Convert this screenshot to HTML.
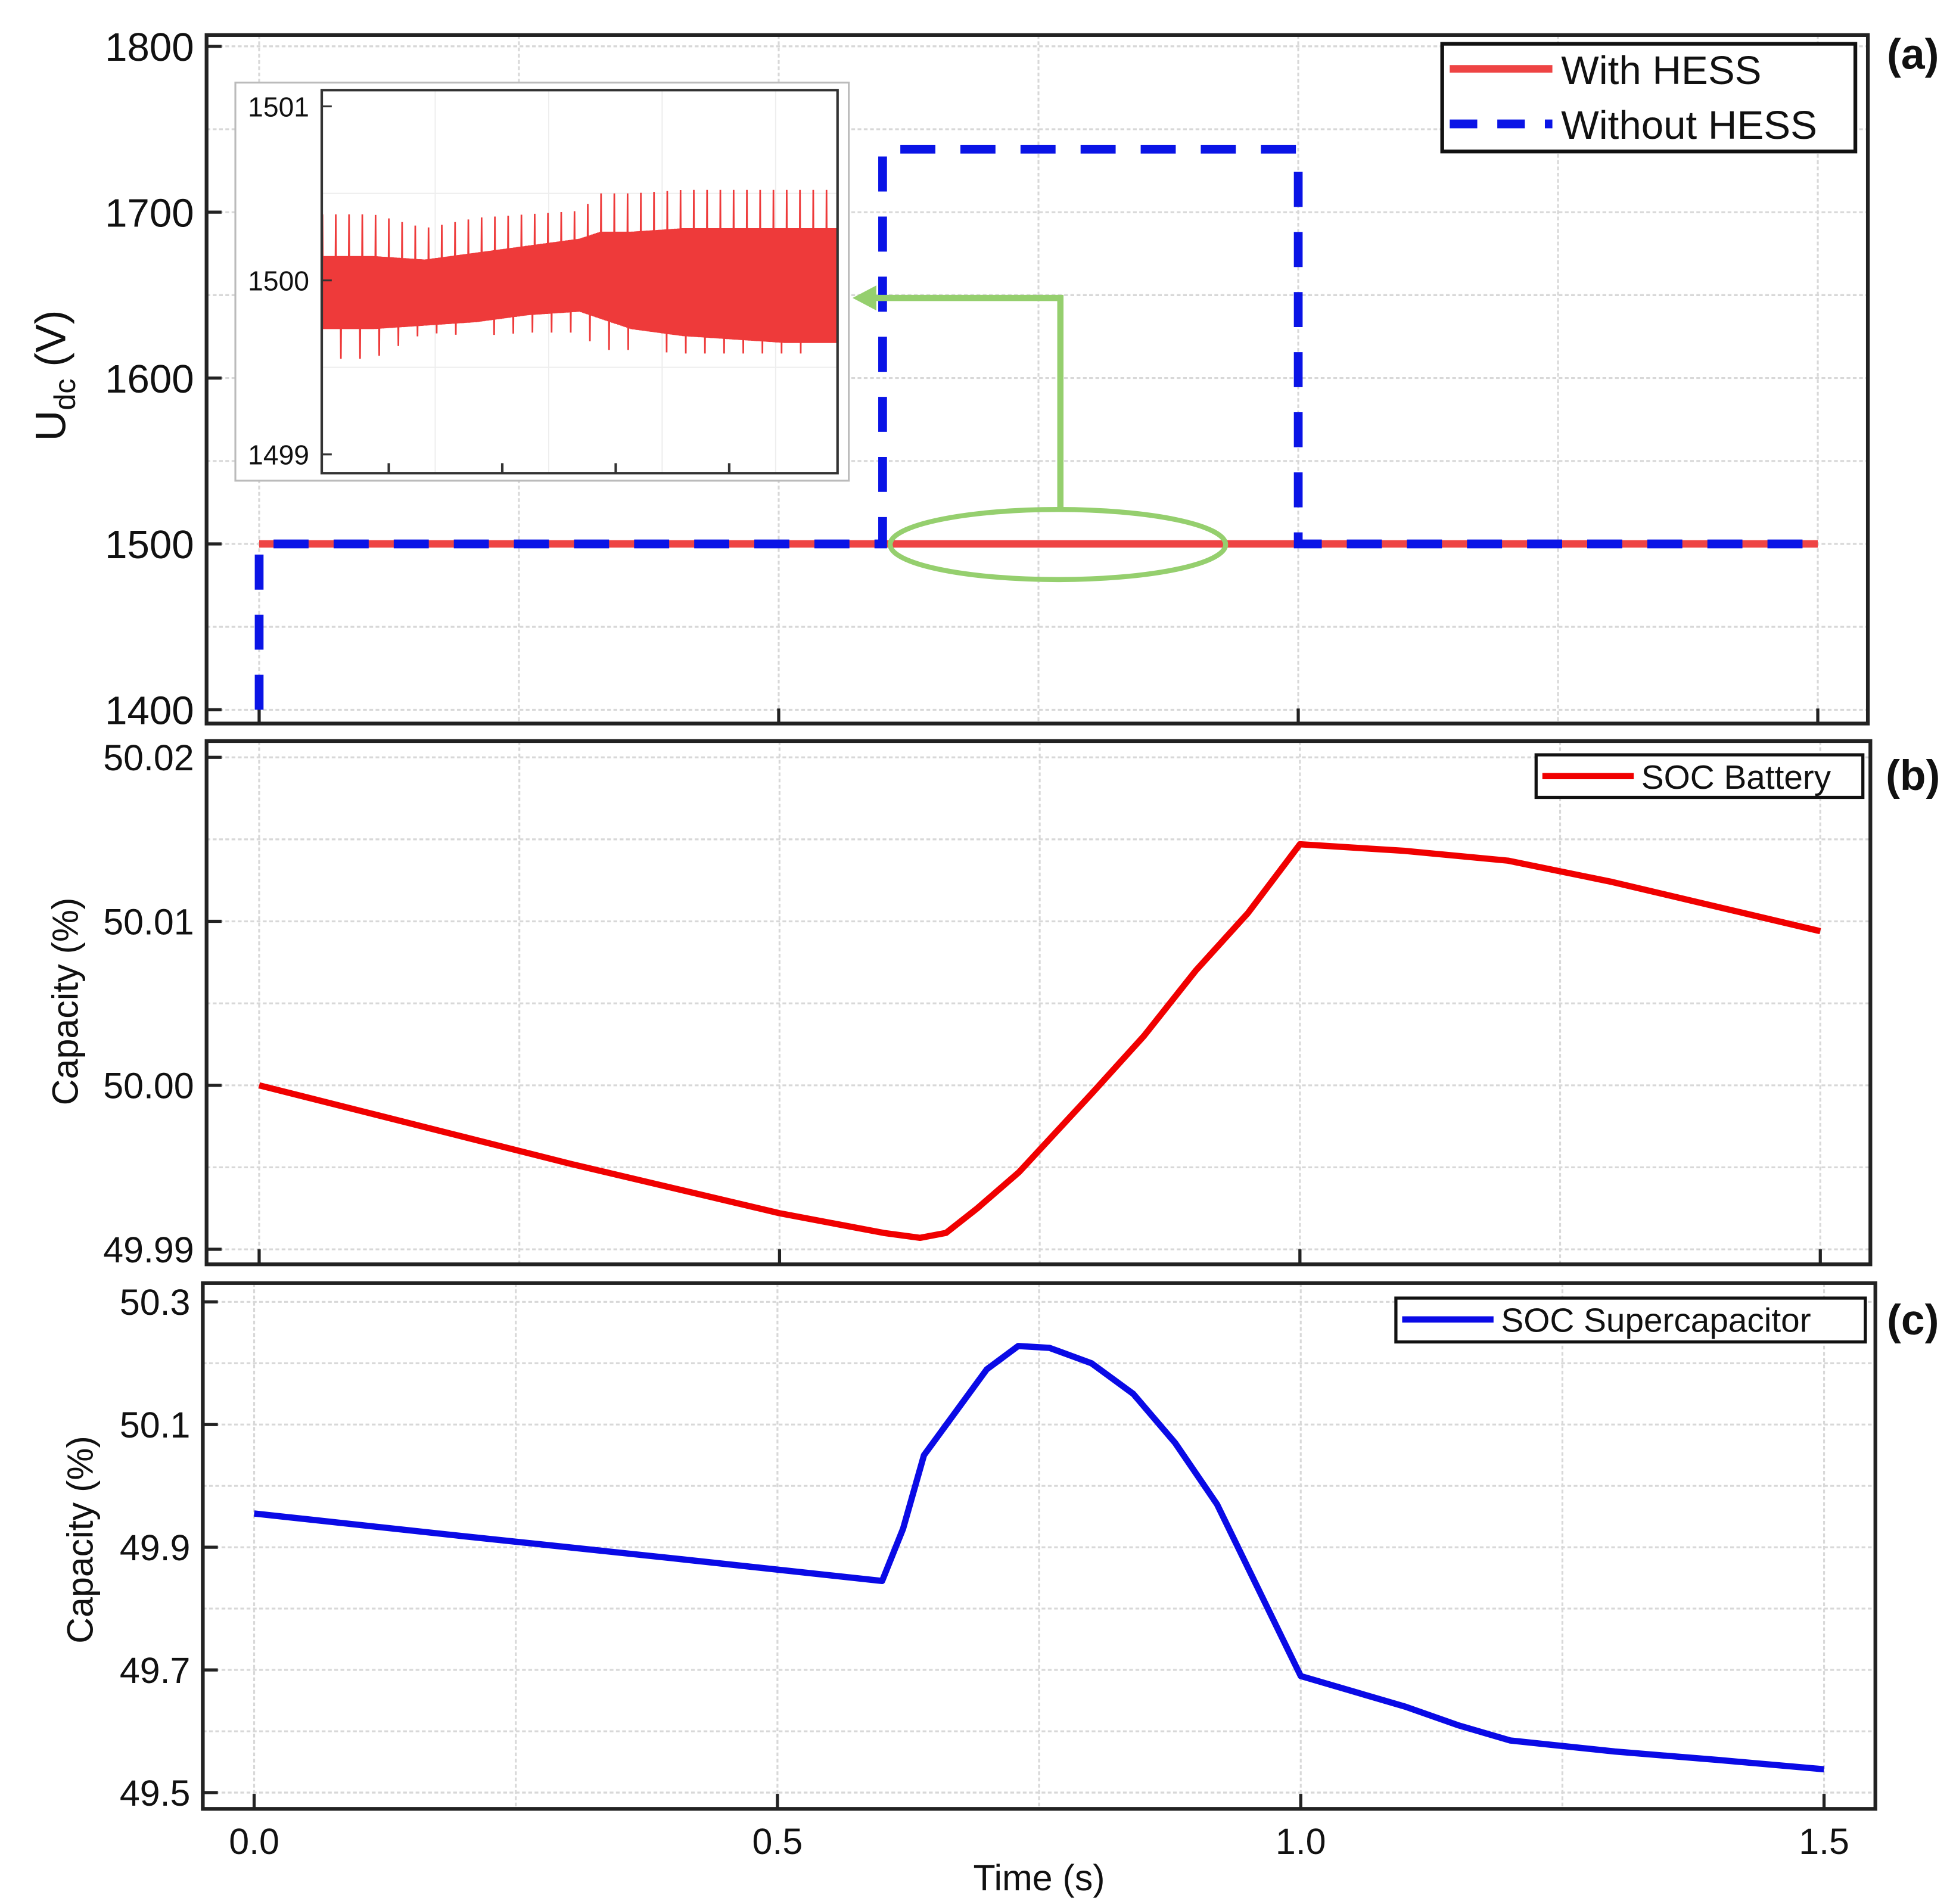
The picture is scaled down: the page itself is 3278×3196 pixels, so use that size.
<!DOCTYPE html>
<html><head><meta charset="utf-8"><style>
html,body{margin:0;padding:0;background:#fff}
svg{display:block}
text{font-family:"Liberation Sans",sans-serif}
</style></head><body>
<svg id="chart" width="3278" height="3196" viewBox="0 0 1560 1521" preserveAspectRatio="none" xmlns="http://www.w3.org/2000/svg"></svg>
<script>
// ---- data ----
const xTicks=[0,0.5,1.0,1.5];
const xTickLabels=["0.0","0.5","1.0","1.5"];
// panel a
const aTicks=[1400,1500,1600,1700,1800];
const withT=[0,1.5];
const withV=[1500,1500];
const withoutT=[0,0,0.6,0.6,1.0,1.0,1.5];
const withoutV=[1400,1500,1500,1738,1738,1500,1500];
// panel a inset envelopes
const insetX=[0,0.1,0.2,0.3,0.4,0.5,0.54,0.6,0.7,0.8,0.9,1.0];
const insetHi=[1500.38,1500.38,1500.3,1500.36,1500.38,1500.4,1500.5,1500.5,1500.52,1500.52,1500.52,1500.52];
const insetLo=[1499.55,1499.55,1499.7,1499.68,1499.7,1499.7,1499.6,1499.6,1499.58,1499.58,1499.58,1499.58];
const insetMidHi=[1500.14,1500.14,1500.12,1500.16,1500.2,1500.24,1500.28,1500.28,1500.3,1500.3,1500.3,1500.3];
const insetMidLo=[1499.72,1499.72,1499.74,1499.76,1499.8,1499.82,1499.78,1499.72,1499.68,1499.66,1499.64,1499.64];
// panel b
const bTicks=[49.99,50.00,50.01,50.02];
const bTickLabels=["49.99","50.00","50.01","50.02"];
const bT=[0,0.1,0.2,0.3,0.4,0.5,0.6,0.635,0.66,0.69,0.73,0.8,0.85,0.9,0.95,1.0,1.1,1.2,1.3,1.4,1.5];
const bV=[50.0,49.9984,49.9968,49.9952,49.9937,49.9922,49.9910,49.9907,49.9910,49.9925,49.9947,49.9995,50.0030,50.0070,50.0105,50.0147,50.0143,50.0137,50.0124,50.0109,50.0094];
// panel c
const cTicks=[49.5,49.7,49.9,50.1,50.3];
const cTickLabels=["49.5","49.7","49.9","50.1","50.3"];
const cT=[0,0.2,0.4,0.6,0.62,0.64,0.67,0.7,0.73,0.76,0.8,0.84,0.88,0.9,0.92,0.96,1.0,1.05,1.1,1.15,1.2,1.3,1.4,1.5];
const cV=[49.955,49.918,49.882,49.845,49.93,50.05,50.12,50.19,50.228,50.225,50.2,50.15,50.07,50.02,49.97,49.83,49.69,49.665,49.64,49.61,49.585,49.567,49.553,49.538];

const NS="http://www.w3.org/2000/svg";
const svg=document.getElementById('chart');
function el(tag,attrs,parent,text){const e=document.createElementNS(NS,tag);for(const k in attrs)e.setAttribute(k,attrs[k]);if(text!==undefined)e.textContent=text;(parent||svg).appendChild(e);return e;}
function lin(d0,d1,r0,r1){return v=>r0+(v-d0)/(d1-d0)*(r1-r0);}
function path(xs,ys,sx,sy){return xs.map((t,i)=>(i?'L':'M')+sx(t).toFixed(2)+','+sy(ys[i]).toFixed(2)).join(' ');}

function panel(name,box,sx,sy,yt,ytl,fs,gridY,gridX){
  const g=el('g',{},svg);
  
  
  gridY.forEach(v=>{const l=el('line',{x1:box[0],x2:box[2],y1:sy(v),y2:sy(v),stroke:'#d8d8d8','stroke-width':1.5,'stroke-dasharray':'3,2'},g);
    });
  gridX.forEach(v=>{const l=el('line',{x1:sx(v),x2:sx(v),y1:box[1],y2:box[3],stroke:'#d8d8d8','stroke-width':1.5,'stroke-dasharray':'3,2'},g);
    });
  const r=el('rect',{x:box[0],y:box[1],width:box[2]-box[0],height:box[3]-box[1],fill:'none',stroke:'#222','stroke-width':3},g);
  
  yt.forEach((v,i)=>{
    const t=el('line',{x1:box[0],x2:box[0]+12,y1:sy(v),y2:sy(v),stroke:'#222','stroke-width':2.5},g);
    
    const tx=el('text',{x:box[0]-10,y:sy(v)+fs*0.36,'text-anchor':'end','font-size':fs,fill:'#111'},g,ytl[i]);
    
  });
  xTicks.forEach(v=>{const t=el('line',{x1:sx(v),x2:sx(v),y1:box[3],y2:box[3]-12,stroke:'#222','stroke-width':2.5},g);
    });
  return g;
}

// ---------- Panel A ----------
const axA=lin(0,1.5,207,1452), ayA=lin(1400,1800,567,37);
const gA=panel('panel-a-voltage',[165,28,1492,578],axA,ayA,aTicks,aTicks.map(String),32,[1400,1450,1500,1550,1600,1650,1700,1750,1800],[0,0.25,0.5,0.75,1.0,1.25,1.5]);
let p=el('path',{d:path(withT,withV,axA,ayA),stroke:'#ee4444','stroke-width':6,fill:'none'},gA);

p=el('path',{d:path(withoutT,withoutV,axA,ayA),stroke:'#0a14e6','stroke-width':7,fill:'none','stroke-dasharray':'28,20'},gA);

p=el('ellipse',{cx:845,cy:435,rx:134,ry:28,fill:'none',stroke:'#95cf6e','stroke-width':4},gA);

p=el('path',{d:'M847,407 L847,238 L698,238',fill:'none',stroke:'#95cf6e','stroke-width':5},gA);

p=el('path',{d:'M681,238 L700,228 L700,248 Z',fill:'#95cf6e'},gA);

// inset
const inset=el('g',{},gA);

el('rect',{x:188,y:66,width:490,height:318,fill:'#fff',stroke:'#bbb','stroke-width':1.5},inset);
const ix=lin(0,1,257,669), iy=lin(1499,1501,363,85);
[0.22,0.44,0.66,0.88].forEach(v=>el('line',{x1:ix(v),x2:ix(v),y1:72,y2:378,stroke:'#eee','stroke-width':1},inset));
[1499.5,1500,1500.5].forEach(v=>el('line',{x1:257,x2:669,y1:iy(v),y2:iy(v),stroke:'#eee','stroke-width':1},inset));
function interp(xs,ys,x){for(let i=1;i<xs.length;i++){if(x<=xs[i]){const f=(x-xs[i-1])/(xs[i]-xs[i-1]);return ys[i-1]+f*(ys[i]-ys[i-1]);}}return ys[ys.length-1];}
let d='';const N=700;
for(let k=0;k<=N;k++){const f=k/N;
  const spike=(k%9===1)?'hi':((k%13===0)?'lo':'mid');
  const yA=spike==='hi'?interp(insetX,insetHi,f):interp(insetX,insetMidHi,f);
  const yB=spike==='lo'?interp(insetX,insetLo,f):interp(insetX,insetMidLo,f);
  d+=(k?'L':'M')+ix(f).toFixed(1)+','+iy(k%2?yA:yB).toFixed(1)+' ';
}
p=el('path',{d:d,stroke:'#ee3a3a','stroke-width':1.3,fill:'none'},inset);

el('rect',{x:257,y:72,width:412,height:306,fill:'none',stroke:'#333','stroke-width':2},inset);
[1499,1500,1501].forEach(v=>{el('line',{x1:257,x2:265,y1:iy(v),y2:iy(v),stroke:'#333','stroke-width':1.5},inset);
  const t=el('text',{x:247,y:iy(v)+8,'text-anchor':'end','font-size':22,fill:'#111'},inset,String(v));
  });
[0.13,0.35,0.57,0.79].forEach(v=>el('line',{x1:ix(v),x2:ix(v),y1:378,y2:370,stroke:'#333','stroke-width':2},inset));
// legend a
const lgA=el('g',{},gA);
el('rect',{x:1152,y:35,width:330,height:86,fill:'#fff',stroke:'#111','stroke-width':3},lgA);
el('line',{x1:1158,x2:1240,y1:55,y2:55,stroke:'#ee4444','stroke-width':6},lgA);
el('line',{x1:1158,x2:1240,y1:99,y2:99,stroke:'#0a14e6','stroke-width':7,'stroke-dasharray':'22,16'},lgA);
let t=el('text',{x:1247,y:67,'font-size':32,fill:'#111'},lgA,'With HESS');
t=el('text',{x:1247,y:111,'font-size':32,fill:'#111'},lgA,'Without HESS');
t=el('text',{x:0,y:0,'font-size':34,fill:'#111',transform:'translate(52,300) rotate(-90)','text-anchor':'middle'},gA);
t.innerHTML='U<tspan font-size="24" dy="8">dc</tspan><tspan dy="-8"> (V)</tspan>';


// ---------- Panel B ----------
const axB=lin(0,1.5,207,1454), ayB=lin(49.99,50.02,998,605);
const gB=panel('panel-b-battery',[165,592,1494,1010],axB,ayB,bTicks,bTickLabels,29,[49.99,49.995,50.0,50.005,50.01,50.015,50.02],[0,0.25,0.5,0.75,1.0,1.25,1.5]);
p=el('path',{d:path(bT,bV,axB,ayB),stroke:'#f00000','stroke-width':5,fill:'none','stroke-linejoin':'round'},gB);

const lgB=el('g',{},gB);
el('rect',{x:1227,y:603,width:261,height:34,fill:'#fff',stroke:'#111','stroke-width':2.5},lgB);
el('line',{x1:1232,x2:1305,y1:620,y2:620,stroke:'#f00000','stroke-width':5},lgB);
el('text',{x:1311,y:630,'font-size':27,fill:'#111'},lgB,'SOC Battery');
t=el('text',{x:0,y:0,'font-size':29,fill:'#111',transform:'translate(62,800) rotate(-90)','text-anchor':'middle'},gB,'Capacity (%)');


// ---------- Panel C ----------
const axC=lin(0,1.5,203,1457), ayC=lin(49.5,50.3,1432,1040);
const gC=panel('panel-c-supercap',[162,1025,1498,1445],axC,ayC,cTicks,cTickLabels,29,[49.5,49.6,49.7,49.8,49.9,50.0,50.1,50.2,50.3],[0,0.25,0.5,0.75,1.0,1.25,1.5]);
p=el('path',{d:path(cT,cV,axC,ayC),stroke:'#0a0ae6','stroke-width':5,fill:'none','stroke-linejoin':'round'},gC);

const lgC=el('g',{},gC);
el('rect',{x:1115,y:1037,width:375,height:35,fill:'#fff',stroke:'#111','stroke-width':2.5},lgC);
el('line',{x1:1120,x2:1193,y1:1054,y2:1054,stroke:'#0a0ae6','stroke-width':5},lgC);
el('text',{x:1199,y:1064,'font-size':27,fill:'#111'},lgC,'SOC Supercapacitor');
t=el('text',{x:0,y:0,'font-size':29,fill:'#111',transform:'translate(74,1230) rotate(-90)','text-anchor':'middle'},gC,'Capacity (%)');

xTicks.forEach((v,i)=>{const tx=el('text',{x:axC(v),y:1481,'text-anchor':'middle','font-size':29,fill:'#111'},gC,xTickLabels[i]);
  });
t=el('text',{x:830,y:1510,'text-anchor':'middle','font-size':29,fill:'#111'},gC,'Time (s)');


[['(a)',55],['(b)',631],['(c)',1066]].forEach(([s,y])=>{const tx=el('text',{x:1528,y:y,'text-anchor':'middle','font-size':34,'font-weight':'bold','font-family':'Liberation Serif, serif',fill:'#111'},svg,s);
  });
</script>
</body></html>
